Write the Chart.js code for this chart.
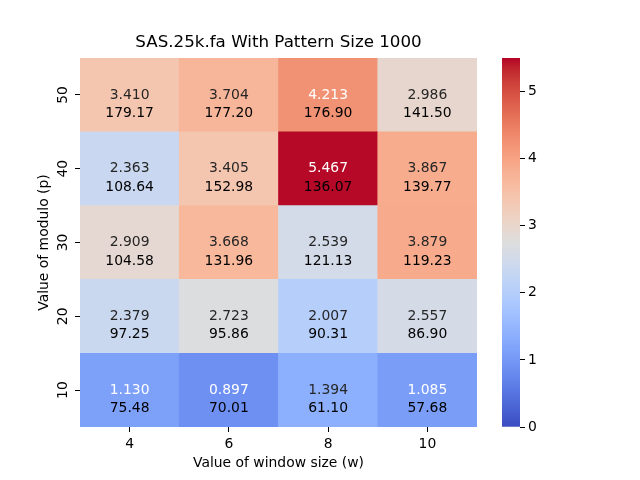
<!DOCTYPE html>
<html>
<head>
<meta charset="utf-8">
<script src="https://cdn.jsdelivr.net/npm/chart.js@4.4.0/dist/chart.umd.min.js"></script>
<style>
  html, body { margin: 0; padding: 0; background: #fff; }
  #wrap { position: relative; width: 640px; height: 480px; }
  canvas { position: absolute; left: 0; top: 0; }
</style>
</head>
<body>
<div id="wrap">
  <canvas id="heat" width="640" height="480"></canvas>
  <canvas id="cbar" width="640" height="480"></canvas>
</div>
<script>
// window size (w) columns, modulo (p) rows
const windowSizes = ['4', '6', '8', '10'];
const moduloValues = [10, 20, 30, 40, 50];

// top number in each cell (colour value), row by p, column by w
const ratioValues = [
  [1.130, 0.897, 1.394, 1.085],
  [2.379, 2.723, 2.007, 2.557],
  [2.909, 3.668, 2.539, 3.879],
  [2.363, 3.405, 5.467, 3.867],
  [3.410, 3.704, 4.213, 2.986],
];
// bottom number in each cell
const timeValues = [
  [75.48, 70.01, 61.10, 57.68],
  [97.25, 95.86, 90.31, 86.90],
  [104.58, 131.96, 121.13, 119.23],
  [108.64, 152.98, 136.07, 139.77],
  [179.17, 177.20, 176.90, 141.50],
];
const colorbarTicks = [0, 1, 2, 3, 4, 5];
const vMin = 0;
const vMax = 5.5;

// coolwarm (Moreland), 33 points
const coolwarm = [
  [59,76,192],[68,90,204],[77,104,215],[87,117,225],[98,130,234],[108,142,241],
  [119,154,247],[130,165,251],[141,176,254],[152,185,255],[163,194,255],[174,201,253],
  [184,208,249],[194,213,244],[204,217,238],[213,219,230],[221,221,221],[229,216,209],
  [236,211,197],[241,204,185],[245,196,173],[247,187,160],[247,177,148],[247,166,135],
  [244,154,123],[241,141,111],[236,127,99],[229,112,88],[222,96,77],[213,80,66],
  [203,62,56],[192,40,47],[180,4,38]
];

function rgbAt(t) {
  t = Math.min(1, Math.max(0, t));
  const pos = t * (coolwarm.length - 1);
  const i = Math.min(Math.floor(pos), coolwarm.length - 2);
  const f = pos - i;
  return coolwarm[i].map((c, k) => Math.round(c + (coolwarm[i + 1][k] - c) * f));
}
function colorFor(v) {
  // matplotlib looks colours up in 256 bins
  const idx = Math.min(255, Math.floor((v - vMin) / (vMax - vMin) * 256));
  return rgbAt(idx / 255);
}
const css = rgb => `rgb(${rgb[0]},${rgb[1]},${rgb[2]})`;

function textColor(v) {
  const lin = colorFor(v).map(c => {
    c = c / 255;
    return c <= 0.03928 ? c / 12.92 : Math.pow((c + 0.055) / 1.055, 2.4);
  });
  const lum = 0.2126 * lin[0] + 0.7152 * lin[1] + 0.0722 * lin[2];
  return lum > 0.408 ? '#262626' : '#ffffff';
}

const FONT = '"DejaVu Sans", sans-serif';
Chart.defaults.font.family = FONT;
Chart.defaults.color = '#000';

// two numbers per cell
const cellLabels = {
  id: 'cellLabels',
  afterDatasetsDraw(chart) {
    const { ctx } = chart;
    const y = chart.scales.y;
    ctx.save();
    ctx.font = '13.9px ' + FONT;
    ctx.textAlign = 'center';
    ctx.textBaseline = 'middle';
    chart.data.datasets.forEach((ds, i) => {
      chart.getDatasetMeta(i).data.forEach((bar, j) => {
        const v = ratioValues[i][j];
        ctx.fillStyle = textColor(v);
        ctx.fillText(v.toFixed(3), bar.x, y.getPixelForValue(moduloValues[i]));
        ctx.fillStyle = '#000';
        ctx.fillText(timeValues[i][j].toFixed(2), bar.x, y.getPixelForValue(moduloValues[i] - 2.5));
      });
    });
    ctx.restore();
  }
};

new Chart(document.getElementById('heat'), {
  type: 'bar',
  data: {
    labels: windowSizes,
    datasets: moduloValues.map((p, i) => ({
      data: windowSizes.map(() => [p - 5, p + 5]),
      backgroundColor: ratioValues[i].map(v => css(colorFor(v))),
      borderWidth: 0,
      grouped: false,
      barPercentage: 1,
      categoryPercentage: 1,
    })),
  },
  options: {
    responsive: false,
    animation: false,
    devicePixelRatio: 1,
    layout: { padding: { left: 0, right: 163, top: 0, bottom: 0 } },
    plugins: {
      legend: { display: false },
      tooltip: { enabled: false },
      title: {
        display: true,
        text: 'SAS.25k.fa With Pattern Size 1000',
        fullSize: false,
        color: '#000',
        font: { size: 16.7, weight: 'normal' },
        padding: { top: 33, bottom: 5 },
      },
    },
    scales: {
      x: {
        type: 'category',
        grid: { display: true, offset: false, drawOnChartArea: false, tickLength: 5, tickColor: '#000' },
        border: { display: false },
        ticks: { color: '#000', font: { size: 13.9 }, padding: 4 },
        title: { display: true, text: 'Value of window size (w)', color: '#000', font: { size: 13.9 }, padding: { top: 0, bottom: 8.7 } },
        afterFit: s => { s.height = 53; },
      },
      y: {
        type: 'linear',
        min: 5,
        max: 55,
        afterBuildTicks: s => { s.ticks = moduloValues.map(v => ({ value: v })); },
        grid: { display: true, drawOnChartArea: false, tickLength: 5, tickColor: '#000' },
        border: { display: false },
        ticks: { color: '#000', font: { size: 13.9 }, padding: 3, minRotation: 90, maxRotation: 90, crossAlign: 'center' },
        title: { display: true, text: 'Value of modulo (p)', color: '#000', font: { size: 13.9 }, padding: { top: 35.7, bottom: 0 } },
        afterFit: s => { s.width = 80; },
      },
    },
  },
  plugins: [cellLabels],
});

// colour bar
new Chart(document.getElementById('cbar'), {
  type: 'bar',
  data: {
    labels: [''],
    datasets: [{
      data: [[vMin, vMax]],
      backgroundColor: c => {
        const area = c.chart.chartArea;
        if (!area) return null;
        const y = c.chart.scales.y;
        const g = c.chart.ctx.createLinearGradient(0, y.getPixelForValue(vMin), 0, y.getPixelForValue(vMax));
        coolwarm.forEach((rgb, k) => g.addColorStop(k / (coolwarm.length - 1), css(rgb)));
        return g;
      },
      borderWidth: 0,
      barPercentage: 1,
      categoryPercentage: 1,
    }],
  },
  options: {
    responsive: false,
    animation: false,
    devicePixelRatio: 1,
    layout: { padding: { left: 502, right: 0, top: 58, bottom: 53 } },
    plugins: { legend: { display: false }, tooltip: { enabled: false } },
    scales: {
      x: { display: false },
      y: {
        position: 'right',
        min: vMin,
        max: vMax,
        afterBuildTicks: s => { s.ticks = colorbarTicks.map(v => ({ value: v })); },
        grid: { display: true, drawOnChartArea: false, tickLength: 5, tickColor: '#000' },
        border: { display: false },
        ticks: { color: '#000', font: { size: 13.9 }, padding: 3 },
        afterFit: s => { s.width = 120; },
      },
    },
  },
});
</script>
</body>
</html>
